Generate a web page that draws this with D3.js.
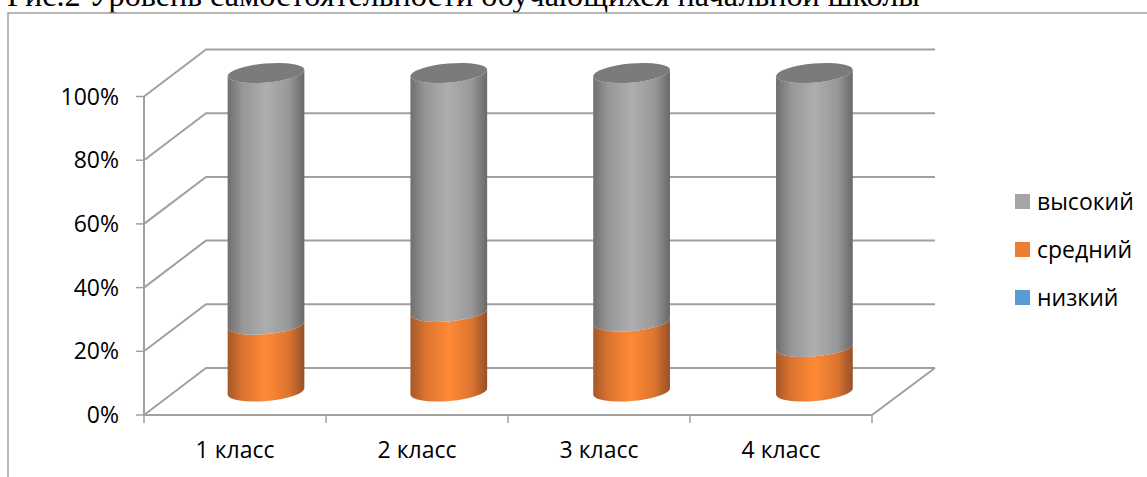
<!doctype html>
<html>

<head>
  <meta charset="utf8"/>
  <style>
    html, body { margin: 0; padding: 0; background: #fff; overflow: hidden; }
    text { font-family: 'Open Sans', 'Noto Sans', sans-serif; fill: #000; }
    .title { font-family: 'Liberation Serif', serif; font-size: 32.2px; }
    .grid { fill: none; stroke: #a0a0a0; stroke-width: 2px; }
    .tick-mark { stroke: #a0a0a0; stroke-width: 1.5px; }
    .label { font-size: 23px; }
    .legend-label { font-size: 23px; }
  </style>
</head>

<body>
  <svg width='1147' height='477'></svg>
  <script src="https://d3js.org/d3.v7.min.js"></script>

  <script>

    var categories = ['1 класс', '2 класс', '3 класс', '4 класс'];
    var seriesNames = ['низкий', 'средний', 'высокий'];
    var nizkiy = [0, 0, 0, 0];
    var sredniy = [21, 25, 22, 14];
    var vysokiy = [79, 75, 78, 86];
    var percentTicks = [0, 20, 40, 60, 80, 100];
    var colors = ['#5b9bd5', '#ed7d31', '#a5a5a5'];
    var titleText = 'Рис.2 Уровень самостоятельности обучающихся начальной школы';

    var svg = d3.select('svg');

    // floor depth of the 3d box, in pixels
    var depthX = 62, depthY = -47;

    var x = d3.scaleBand().domain(categories).range([144, 872]);
    var y = d3.scaleLinear().domain([0, 100]).range([415, 96.5]);
    // the cylinders are spaced a little wider than the axis, perspective of the 3d box
    var xCyl = d3.scaleBand().domain(categories).range([174.6, 905.8]);

    svg.append('text').attr('class', 'title')
      .attr('x', 7).attr('y', 6).text(titleText);

    svg.append('path')
      .attr('d', 'M8,477V13H1147')
      .attr('fill', 'none').attr('stroke', '#a0a0a0').attr('stroke-width', 1.5);

    // back wall lines and side wall lines
    percentTicks.forEach(function(t) {
      svg.append('path').attr('class', 'grid')
        .attr('d', 'M' + x.range()[0] + ',' + y(t) +
                   'L' + (x.range()[0] + depthX) + ',' + (y(t) + depthY) +
                   'H' + (x.range()[1] + depthX + 1));
    });
    svg.append('path').attr('class', 'grid')
      .attr('d', 'M' + x.range()[0] + ',' + y(100) + 'V' + y(0) + 'H' + x.range()[1] +
                 'l' + (depthX + 1) + ',' + depthY);

    // ticks
    var yAxis = svg.append('g').selectAll('g').data(percentTicks).enter().append('g');
    yAxis.append('line').attr('class', 'tick-mark')
      .attr('x1', 136).attr('x2', 144)
      .attr('y1', function(d) { return y(d); })
      .attr('y2', function(d) { return y(d); });
    yAxis.append('text').attr('class', 'label')
      .attr('x', 119).attr('y', function(d) { return y(d); })
      .attr('dy', '0.35em').attr('text-anchor', 'end')
      .text(function(d) { return d + '%'; });

    var xTicks = categories.map(function(c) { return x(c); }).concat([x.range()[1]]);
    svg.append('g').selectAll('line').data(xTicks).enter().append('line')
      .attr('class', 'tick-mark')
      .attr('x1', function(d) { return d; }).attr('x2', function(d) { return d; })
      .attr('y1', y(0)).attr('y2', y(0) + 8);

    svg.append('g').selectAll('text').data(categories).enter().append('text')
      .attr('class', 'label')
      .attr('x', function(d) { return x(d) + x.bandwidth() / 2; })
      .attr('y', 458).attr('text-anchor', 'middle')
      .text(function(d) { return d; });

    // horizontal shading of the cylinders
    var defs = svg.append('defs');
    function shade(id, stops) {
      var grad = defs.append('linearGradient').attr('id', id);
      stops.forEach(function(s) {
        grad.append('stop').attr('offset', s[0]).attr('stop-color', s[1]);
      });
    }
    shade('shade-mid', [[0, '#a4582a'], [0.2, '#dc742f'], [0.5, '#ff8a36'],
                        [0.8, '#dc742f'], [1, '#96502a']]);
    shade('shade-high', [[0, '#6f6f6f'], [0.2, '#979797'], [0.5, '#aeaeae'],
                         [0.8, '#989898'], [1, '#686868']]);

    // cylinders stand in the middle of the floor depth
    var rx = 38.5, ry = 9.5, tilt = -5;
    var centerX = function(c) { return xCyl(c) + xCyl.bandwidth() / 2; };
    var midY = function(v) { return y(v) + depthY / 2; };

    // endpoints of the tilted ellipse
    var dxE = rx * Math.cos(tilt * Math.PI / 180);
    var dyE = rx * Math.sin(tilt * Math.PI / 180);

    function segment(cx, v0, v1) {
      var y0 = midY(v0), y1 = midY(v1);
      var arc = 'A' + rx + ',' + ry + ' ' + tilt + ' 0 ';
      return 'M' + (cx - dxE) + ',' + (y1 - dyE) +
             'L' + (cx - dxE) + ',' + (y0 - dyE) +
             arc + '0 ' + (cx + dxE) + ',' + (y0 + dyE) +
             'L' + (cx + dxE) + ',' + (y1 + dyE) +
             arc + '1 ' + (cx - dxE) + ',' + (y1 - dyE) + 'Z';
    }

    categories.forEach(function(c, i) {
      var cx = centerX(c);
      var g = svg.append('g');
      g.append('path').attr('d', segment(cx, nizkiy[i], nizkiy[i] + sredniy[i]))
        .attr('fill', 'url(#shade-mid)');
      g.append('path').attr('d', segment(cx, nizkiy[i] + sredniy[i], nizkiy[i] + sredniy[i] + vysokiy[i]))
        .attr('fill', 'url(#shade-high)');
      g.append('ellipse')
        .attr('rx', rx).attr('ry', ry)
        .attr('transform', 'translate(' + cx + ',' + midY(nizkiy[i] + sredniy[i] + vysokiy[i]) + ') rotate(' + tilt + ')')
        .attr('fill', '#7b7b7b');
    });

    // legend
    var legendY = d3.scalePoint().domain(seriesNames.slice().reverse()).range([201.5, 297.5]);
    var legend = svg.append('g').selectAll('g').data(seriesNames).enter().append('g');
    legend.append('rect')
      .attr('x', 1015).attr('y', function(d) { return legendY(d) - 7.5; })
      .attr('width', 15).attr('height', 15)
      .attr('fill', function(d, i) { return colors[i]; });
    legend.append('text').attr('class', 'legend-label')
      .attr('x', 1037).attr('y', function(d) { return legendY(d); })
      .attr('dy', '0.35em')
      .text(function(d) { return d; });

  </script>
</body>

</html>
